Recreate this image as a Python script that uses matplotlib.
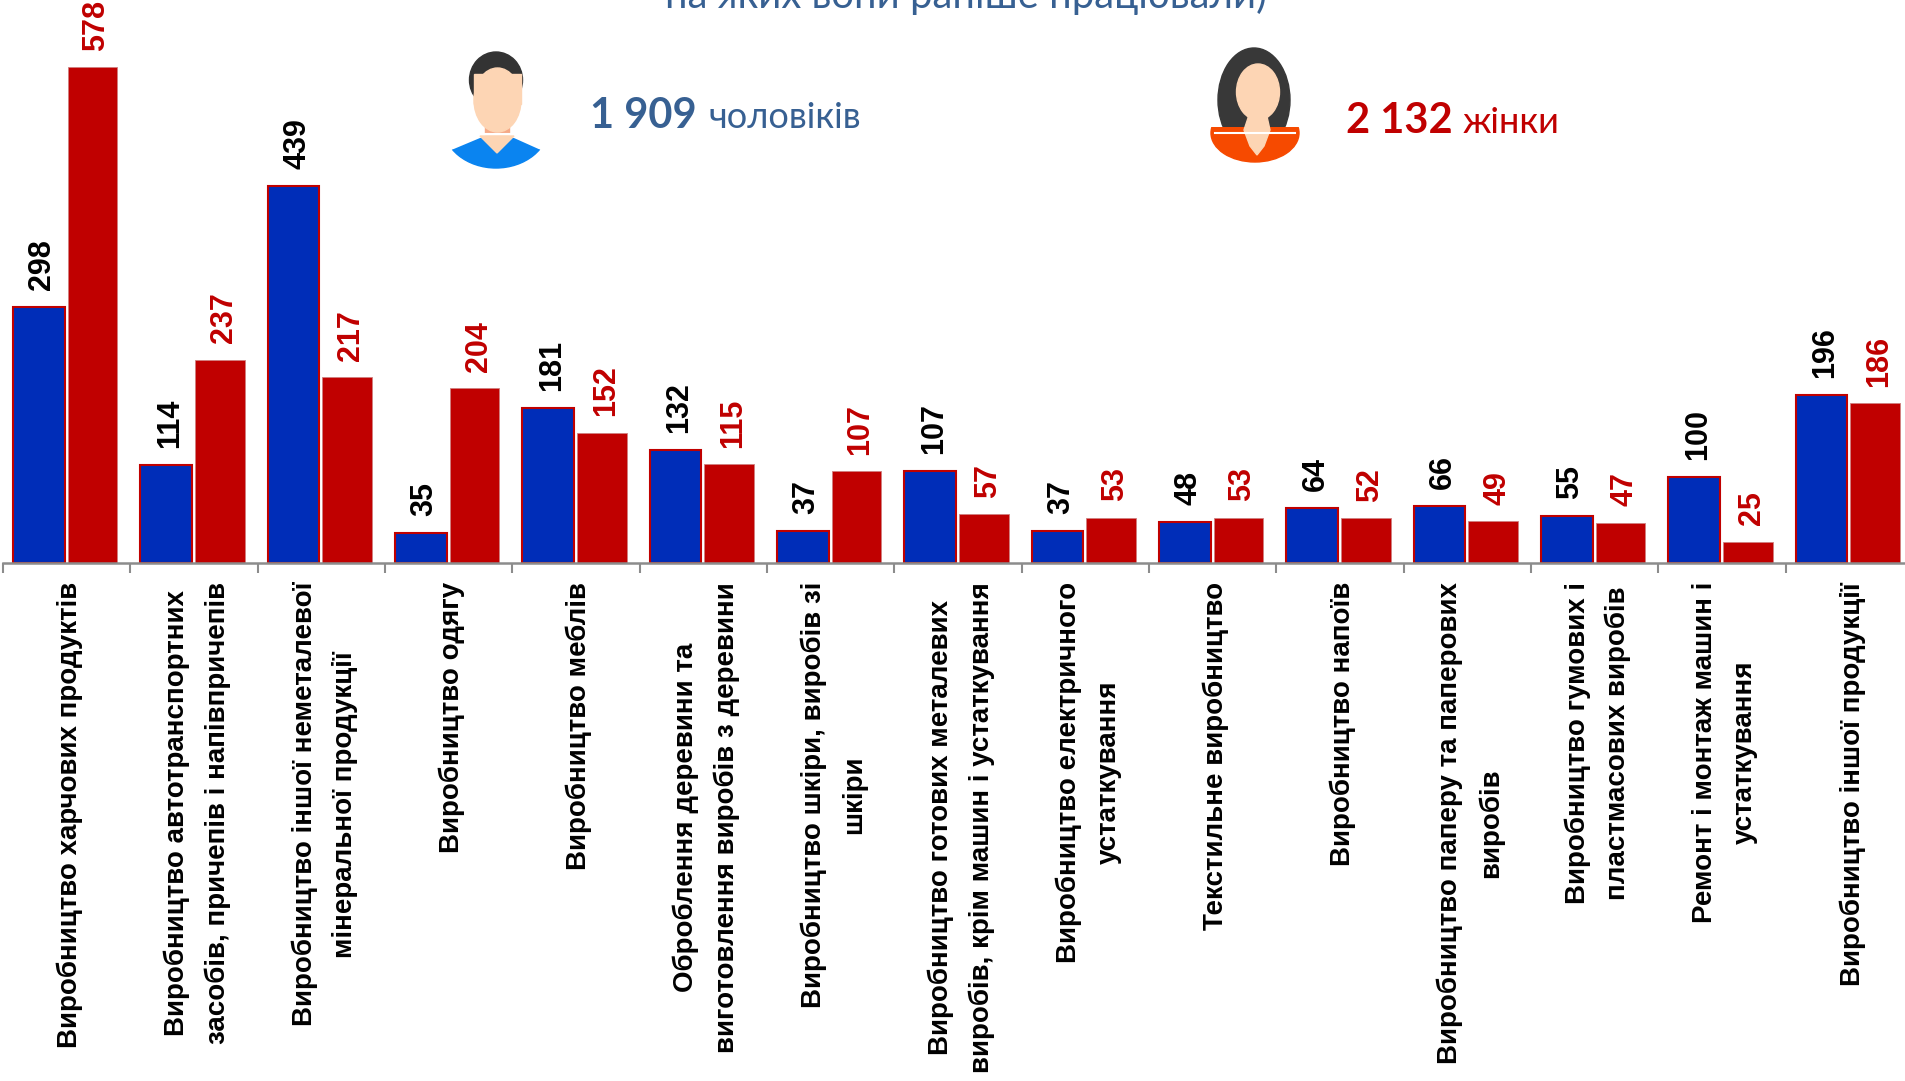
import matplotlib
matplotlib.use('Agg')
import matplotlib.pyplot as plt
from matplotlib.patches import Ellipse, Polygon, Rectangle
import numpy as np

categorias = [
    'Виробництво харчових продуктів',
    'Виробництво автотранспортних\nзасобів, причепів і напівпричепів',
    'Виробництво іншої неметалевої\nмінеральної продукції',
    'Виробництво одягу',
    'Виробництво меблів',
    'Оброблення деревини та\nвиготовлення виробів з деревини',
    'Виробництво шкіри, виробів зі\nшкіри',
    'Виробництво готових металевих\nвиробів, крім машин і устаткування',
    'Виробництво електричного\nустаткування',
    'Текстильне виробництво',
    'Виробництво напоїв',
    'Виробництво паперу та паперових\nвиробів',
    'Виробництво гумових і\nпластмасових виробів',
    'Ремонт і монтаж машин і\nустаткування',
    'Виробництво іншої продукції',
]
cholovikiv = [298, 114, 439, 35, 181, 132, 37, 107, 37, 48, 64, 66, 55, 100, 196]
zhinok = [578, 237, 217, 204, 152, 115, 107, 57, 53, 53, 52, 49, 47, 25, 186]

blue = '#002DB8'
red = '#C00000'
title_blue = '#376092'
W, H = 1905, 1081
calibri_like = ['Lato', 'Open Sans', 'DejaVu Sans']

fig = plt.figure(figsize=(W / 100, H / 100), dpi=100)
# last category runs slightly past the right edge, as in the slide
ax = fig.add_axes([3 / W, 1 - 563 / H, 1910 / W, 563 / H])
ax.set_xlim(0, 15)
ax.set_ylim(0, 563 / 0.858)

x = np.arange(15)
ax.bar(x + 0.281, cholovikiv, 0.405, color=blue, edgecolor=red, linewidth=1.5)
ax.bar(x + 0.704, zhinok, 0.39, color=red, edgecolor='#d08080', linewidth=0.6)

for i in range(15):
    ax.text(x[i] + 0.31, cholovikiv[i] + 20, str(cholovikiv[i]), rotation=90, ha='center', va='bottom',
            fontsize=22, fontweight='bold', color='black', family='Liberation Sans', clip_on=False)
    ax.text(x[i] + 0.735, zhinok[i] + 19, str(zhinok[i]), rotation=90, ha='center', va='bottom',
            fontsize=22, fontweight='bold', color=red, family='Liberation Sans', clip_on=False)
    ax.text(x[i] + 0.524, -22, categorias[i], rotation=90, ha='center', va='top', multialignment='center',
            fontsize=20, fontweight='bold', color='black', family='Liberation Sans', linespacing=1.7)

for s in ['top', 'right', 'left']:
    ax.spines[s].set_visible(False)
ax.spines['bottom'].set_color('#8c8c8c')
ax.spines['bottom'].set_linewidth(1.8)
ax.set_yticks([])
ax.set_xticks(range(16))
ax.set_xticklabels([])
ax.tick_params(axis='x', length=7, width=1.5, color='#8c8c8c')

# overlay in pixels for title and the two icons
ov = fig.add_axes([0, 0, 1, 1])
ov.set_xlim(0, W)
ov.set_ylim(H, 0)
ov.axis('off')
ov.patch.set_alpha(0)

ov.text(966, -4, 'на яких вони раніше працювали)', ha='center', va='center', fontsize=28.8, color=title_blue, family=calibri_like)

# man
shirt = Ellipse((496, 125), 106, 86, color='#0a84f0', zorder=1)
ov.add_patch(shirt)
shirt.set_clip_path(Polygon([(449, 151), (480, 138), (514, 138), (543, 151), (543, 175), (449, 175)], transform=ov.transData))
ov.add_patch(Polygon([(480, 136), (514, 136), (497, 153)], color='#fdd5b4', zorder=3))
ov.add_patch(Rectangle((485, 118), 24, 16, color='#f5a987', zorder=2))
ov.add_patch(Ellipse((496, 80), 53, 56, color='#333333', zorder=2))
ov.add_patch(Rectangle((474, 74), 47, 30, color='#fdd5b4', zorder=3))
ov.add_patch(Ellipse((497.5, 100), 47, 64, color='#fdd5b4', zorder=3))
ov.plot([480, 514], [134, 134], color='white', lw=1.5, zorder=4)

# woman
ov.add_patch(Ellipse((1254, 100), 72, 104, color='#383838', zorder=1))
top = Ellipse((1255, 133), 88, 58, color='#f64a00', zorder=2)
ov.add_patch(top)
top.set_clip_path(Rectangle((1205, 127), 100, 45, transform=ov.transData))
ov.add_patch(Ellipse((1258, 92), 43, 56, color='#fdd5b4', zorder=3))
ov.add_patch(Polygon([(1250, 112), (1266, 112), (1270, 130), (1264, 146), (1257, 155), (1250, 146), (1244, 130)], color='#fdd5b4', zorder=3))
ov.plot([1215, 1295], [133, 133], color='white', lw=1.5, zorder=4)

ov.text(590, 128, '1 909', ha='left', va='baseline', fontsize=30, fontweight='bold', color=title_blue, family=calibri_like)
ov.text(708, 128, 'чоловіків', ha='left', va='baseline', fontsize=26, color=title_blue, family=calibri_like)
ov.text(1346, 133, '2 132', ha='left', va='baseline', fontsize=30, fontweight='bold', color=red, family=calibri_like)
ov.text(1463, 133, 'жінки', ha='left', va='baseline', fontsize=26, color=red, family=calibri_like)

fig.savefig('out.png', dpi=100)
